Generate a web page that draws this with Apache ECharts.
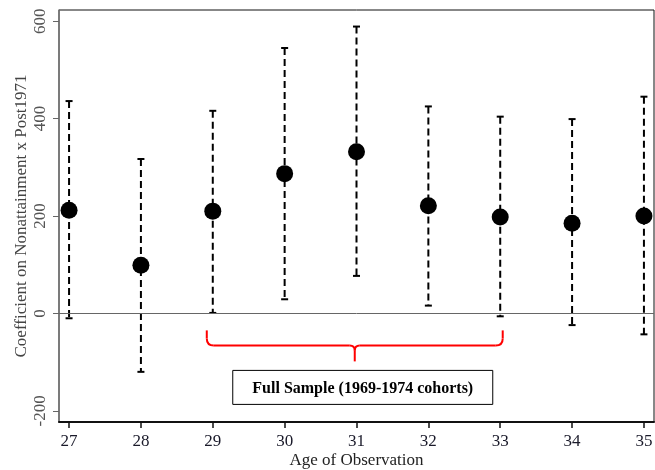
<!DOCTYPE html>
<html><head><meta charset="utf-8">
<script src="https://cdn.jsdelivr.net/npm/echarts@6/dist/echarts.min.js"></script>
<style>html,body{margin:0;padding:0;background:#fff}#c{width:655px;height:470px}</style>
</head><body><div id="c"></div>
<script>
const ages = [27, 28, 29, 30, 31, 32, 33, 34, 35];
const coef = [212, 99, 210, 287, 332, 221, 198, 185, 200];
const ciLow = [-10, -120, 1, 29, 77, 16, -6, -24, -43];
const ciHigh = [436, 317, 416, 545, 589, 425, 404, 399, 445];
const yTicks = [-200, 0, 200, 400, 600];
const bracketRange = [29, 33];
const boxLabel = 'Full Sample (1969-1974 cohorts)';
const xTitle = 'Age of Observation';
const yTitle = 'Coefficient on Nonattainment x Post1971';

const serif = '"Liberation Serif", "Times New Roman", serif';
const chart = echarts.init(document.getElementById('c'), null, {renderer: 'canvas'});

const ciData = ages.map((a, i) => [a, ciLow[i], ciHigh[i]]);
const ptData = ages.map((a, i) => [a, coef[i]]);

chart.setOption({
  animation: false,
  backgroundColor: '#fff',
  grid: {left: 59, right: 1, top: 10, bottom: 48, containLabel: false, outerBoundsMode: 'none', show: true, borderColor: '#111', borderWidth: 1, backgroundColor: 'transparent'},
  xAxis: {
    type: 'value', min: 26.86, max: 35.14,
    name: xTitle, nameLocation: 'middle', nameGap: 30, nameMoveOverlap: false,
    nameTextStyle: {fontFamily: serif, fontSize: 17, color: '#222'},
    axisLine: {show: true, onZero: false, lineStyle: {color: '#111', width: 2}},
    axisTick: {show: true, length: 6, customValues: ages, lineStyle: {color: '#111', width: 1.5}},
    axisLabel: {customValues: ages, margin: 11, fontFamily: serif, fontSize: 17, color: '#1a1a2a'},
    splitLine: {show: false}
  },
  yAxis: {
    type: 'value', min: -223, max: 623,
    name: yTitle, nameLocation: 'middle', nameRotate: 90, nameGap: 29, nameMoveOverlap: false,
    nameTextStyle: {fontFamily: serif, fontSize: 17, color: '#444'},
    axisLine: {show: true, onZero: false, lineStyle: {color: '#777', width: 1.5}},
    axisTick: {show: true, length: 6, customValues: yTicks, lineStyle: {color: '#666', width: 1}},
    axisLabel: {customValues: yTicks, rotate: 90, margin: 10, fontFamily: serif, fontSize: 17, color: '#555'},
    splitLine: {show: false}
  },
  series: [
    {
      type: 'custom',
      data: ciData,
      z: 2,
      renderItem: function (params, api) {
        const x = api.value(0);
        const top = api.coord([x, api.value(2)]);
        const bot = api.coord([x, api.value(1)]);
        const hw = 3.5;
        const st = {stroke: '#000', lineWidth: 2};
        return {
          type: 'group',
          children: [
            {type: 'line', shape: {x1: top[0], y1: top[1], x2: bot[0], y2: bot[1]}, style: {stroke: '#000', lineWidth: 2, lineDash: [7, 4]}},
            {type: 'line', shape: {x1: top[0] - hw, y1: top[1], x2: top[0] + hw, y2: top[1]}, style: st},
            {type: 'line', shape: {x1: bot[0] - hw, y1: bot[1], x2: bot[0] + hw, y2: bot[1]}, style: st}
          ]
        };
      }
    },
    {
      type: 'scatter',
      data: ptData,
      symbol: 'circle',
      symbolSize: 17,
      itemStyle: {color: '#000', opacity: 1},
      z: 3,
      markLine: {
        silent: true, symbol: 'none', label: {show: false},
        lineStyle: {color: '#666', width: 1, type: 'solid'},
        data: [{yAxis: 0}]
      }
    },
    {
      type: 'custom',
      data: [[bracketRange[0], bracketRange[1]]],
      z: 4,
      renderItem: function (params, api) {
        const z0 = api.coord([api.value(0), 0]);
        const z1 = api.coord([api.value(1), 0]);
        const x0 = z0[0] - 6, x1 = z1[0] + 2.5;
        const yTop = z0[1] + 17, yH = z0[1] + 32, yTip = z0[1] + 48;
        const xc = (x0 + x1) / 2;
        const r = 7, r2 = 5;
        const rs = {stroke: '#f00', lineWidth: 2, fill: null};
        const boxW = 260, boxH = 34, boxCx = xc + 8, boxTop = z0[1] + 57;
        return {
          type: 'group',
          children: [
            {type: 'line', shape: {x1: x0, y1: yTop, x2: x0, y2: yH - r}, style: rs},
            {type: 'bezierCurve', shape: {x1: x0, y1: yH - r, cpx1: x0, cpy1: yH, x2: x0 + r, y2: yH}, style: rs},
            {type: 'line', shape: {x1: x0 + r, y1: yH, x2: xc - r2, y2: yH}, style: rs},
            {type: 'bezierCurve', shape: {x1: xc - r2, y1: yH, cpx1: xc, cpy1: yH, x2: xc, y2: yH + 5}, style: rs},
            {type: 'bezierCurve', shape: {x1: xc + r2, y1: yH, cpx1: xc, cpy1: yH, x2: xc, y2: yH + 5}, style: rs},
            {type: 'line', shape: {x1: xc, y1: yH + 5, x2: xc, y2: yTip}, style: rs},
            {type: 'line', shape: {x1: xc + r2, y1: yH, x2: x1 - r, y2: yH}, style: rs},
            {type: 'bezierCurve', shape: {x1: x1 - r, y1: yH, cpx1: x1, cpy1: yH, x2: x1, y2: yH - r}, style: rs},
            {type: 'line', shape: {x1: x1, y1: yH - r, x2: x1, y2: yTop}, style: rs},
            {type: 'rect', shape: {x: boxCx - boxW / 2, y: boxTop, width: boxW, height: boxH}, style: {stroke: '#000', lineWidth: 1, fill: '#fff'}},
            {type: 'text', style: {text: boxLabel, x: boxCx, y: boxTop + boxH / 2 + 1, align: 'center', verticalAlign: 'middle', font: 'bold 16px ' + serif, fill: '#000'}}
          ]
        };
      }
    }
  ]
});
</script>
</body></html>
